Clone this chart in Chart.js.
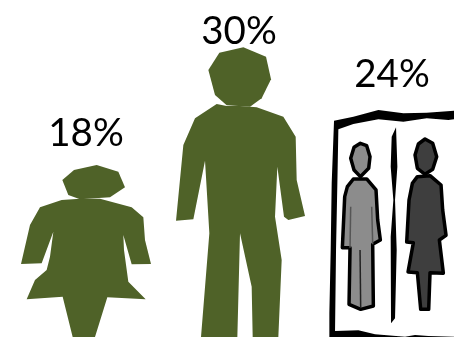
<!DOCTYPE html>
<html>
<head>
<meta charset="utf-8">
<style>
  html, body { margin: 0; padding: 0; background: #fff; overflow: hidden; }
  canvas { display: block; }
</style>
<script src="https://cdn.jsdelivr.net/npm/chart.js@4/dist/chart.umd.js"></script>
</head>
<body>
<canvas id="chart" width="454" height="337"></canvas>
<script>
// Share of each group, in percent
const groups = ['Women', 'Men', 'Both'];
const positions = [0, 1, 2];
const shares = [18, 30, 24];

// Space between each figure's top and its label
const labelGaps = [17, 3, 18];

const OLIVE = '#4f6228';

// Silhouettes: each has a design box [left, top, right, bottom] that is
// stretched onto its bar, so a figure's height follows its value.
const womanHead = [[290,195],[355,215],[375,262],[330,292],[240,298],[205,285],[187,240],[222,210]];
const womanBody = [[240,296],[300,296],[395,322],[430,352],[435,420],[453,492],[395,493],[370,405],[372,450],[385,545],[437,598],[322,592],[285,711],[218,711],[188,590],[80,598],[105,540],[140,510],[150,470],[160,395],[125,490],[63,492],[90,375],[120,322],[185,300]];

const manHead = [[250,142],[318,170],[333,238],[305,295],[270,320],[200,316],[165,285],[145,210],[178,158]];
const manBody = [[170,312],[105,355],[70,435],[48,662],[100,658],[135,482],[148,700],[123,1011],[232,1011],[240,700],[275,860],[278,1011],[355,1011],[365,780],[345,650],[352,500],[372,650],[385,660],[435,648],[410,540],[407,410],[370,350],[290,322],[240,318],[200,318]];

const signOuter = [[42,212],[100,200],[175,180],[250,190],[320,188],[402,182],[420,182],[420,870],[28,870],[28,790],[32,600],[35,400]];
const signInner = [[55,238],[100,222],[175,208],[250,215],[320,205],[385,210],[420,205],[420,861],[325,858],[285,855],[255,860],[165,853],[115,841],[45,843],[48,600],[52,400]];
const signDivider = [[228,232],[215,260],[212,350],[220,450],[212,560],[213,820],[225,805],[230,600],[225,450],[232,350]];
const leftHead = [[121,280],[140,287],[150,320],[146,355],[121,380],[102,360],[92,325],[102,292]];
const leftBody = [[100,387],[140,387],[168,420],[173,510],[181,570],[158,583],[160,768],[122,778],[87,763],[90,593],[67,593],[74,440],[82,410]];
const leftLegSeam = [[120,600],[122,775]];
const leftArmSeamA = [[92,470],[90,593]];
const leftArmSeamB = [[155,470],[158,583]];
const rightHead = [[315,267],[338,280],[350,320],[338,358],[315,373],[292,355],[285,315],[295,282]];
const rightBody = [[292,380],[330,377],[363,405],[368,480],[378,556],[358,570],[370,670],[330,668],[326,778],[302,778],[292,668],[264,666],[280,578],[260,576],[267,450],[277,400]];

const figures = [
  { box: [63, 189, 453, 711], parts: [
    { pts: womanHead, fill: OLIVE },
    { pts: womanBody, fill: OLIVE }
  ]},
  { box: [42, 141, 432, 1011], parts: [
    { pts: manHead, fill: OLIVE },
    { pts: manBody, fill: OLIVE }
  ]},
  { box: [21, 165, 411, 861], parts: [
    { pts: signOuter, fill: '#000' },
    { pts: signInner, fill: '#fff' },
    { pts: signDivider, fill: '#000' },
    { pts: leftHead, fill: '#8c8c8c', line: '#000' },
    { pts: leftBody, fill: '#8c8c8c', line: '#000' },
    { pts: leftLegSeam, line: '#222', open: true },
    { pts: leftArmSeamA, line: '#555', open: true },
    { pts: leftArmSeamB, line: '#555', open: true },
    { pts: rightHead, fill: '#3e3e3e', line: '#000' },
    { pts: rightBody, fill: '#3e3e3e', line: '#000' }
  ]}
];

// Paints a silhouette over each invisible bar, with its value above it
const pictogram = {
  id: 'pictogram',
  afterDatasetsDraw(chart) {
    const ctx = chart.ctx;
    const bars = chart.getDatasetMeta(0).data;
    bars.forEach((bar, i) => {
      const { x, y, base, width } = bar.getProps(['x', 'y', 'base', 'width'], true);
      const [bx0, by0, bx1, by1] = figures[i].box;
      const left = x - width / 2;
      const sx = width / (bx1 - bx0);
      const sy = (base - y) / (by1 - by0);
      ctx.save();
      ctx.lineJoin = 'round';
      figures[i].parts.forEach(part => {
        ctx.beginPath();
        part.pts.forEach(([px, py], k) => {
          const cx = left + (px - bx0) * sx;
          const cy = y + (py - by0) * sy;
          if (k) ctx.lineTo(cx, cy); else ctx.moveTo(cx, cy);
        });
        if (!part.open) ctx.closePath();
        if (part.fill) { ctx.fillStyle = part.fill; ctx.fill(); }
        if (part.line) { ctx.strokeStyle = part.line; ctx.lineWidth = part.open ? 1.5 : 3.5; ctx.stroke(); }
      });
      ctx.fillStyle = '#000';
      ctx.font = '38.5px Lato';
      ctx.textAlign = 'center';
      ctx.textBaseline = 'alphabetic';
      ctx.fillText(shares[i] + '%', x, y - labelGaps[i]);
      ctx.restore();
    });
  }
};

new Chart(document.getElementById('chart'), {
  type: 'bar',
  data: {
    datasets: [{
      label: 'Share',
      data: positions.map((p, i) => ({ x: p, y: shares[i], group: groups[i] })),
      backgroundColor: 'rgba(0,0,0,0)',
      borderWidth: 0,
      barThickness: 130
    }]
  },
  options: {
    responsive: false,
    animation: false,
    layout: { padding: 0 },
    plugins: { legend: { display: false }, tooltip: { enabled: false } },
    scales: {
      x: { type: 'linear', offset: false, min: -0.562, max: 2.405, display: false },
      y: { min: 0, max: 34.86, display: false }
    }
  },
  plugins: [pictogram]
});
</script>
</body>
</html>
